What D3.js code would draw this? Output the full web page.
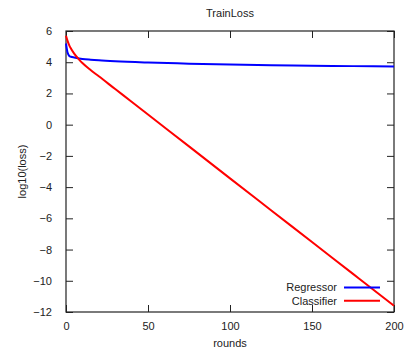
<!DOCTYPE html>
<html>
<head>
<meta charset="utf-8">
<script src="https://cdn.jsdelivr.net/npm/d3@7"></script>
<style>
  body { margin: 0; background: #fff; }
  text { font-family: "Liberation Sans", Arial, sans-serif; fill: #222; }
</style>
</head>
<body>
<div id="plot"></div>
<script>
// rounds and log10(loss)
const regRounds = [0, 1, 2, 3, 5, 8, 10, 15, 20, 30, 50, 75, 100, 125, 150, 175, 200];
const regLoss   = [5.2, 4.6, 4.4, 4.35, 4.3, 4.24, 4.21, 4.16, 4.12, 4.06, 3.98, 3.91, 3.85, 3.81, 3.78, 3.75, 3.72];
const clsRounds = [0, 1, 2, 3, 5, 8, 10, 15, 20, 30, 40, 50, 75, 100, 125, 150, 175, 200];
const clsLoss   = [5.7, 5.35, 5.08, 4.88, 4.55, 4.17, 3.95, 3.5, 3.1, 2.28, 1.47, 0.65, -1.39, -3.44, -5.48, -7.52, -9.56, -11.6];
const xTicks = [0, 50, 100, 150, 200];
const yTicks = [6, 4, 2, 0, -2, -4, -6, -8, -10, -12];
const seriesNames = ["Regressor", "Classifier"];
const seriesColors = ["#0000ff", "#ff0000"];

const width = 406, height = 350;
const margin = { left: 66, right: 12, top: 31, bottom: 38 };

const x = d3.scaleLinear().domain([0, 200]).range([margin.left, width - margin.right]);
const y = d3.scaleLinear().domain([-12, 6]).range([height - margin.bottom, margin.top]);

const svg = d3.select("#plot").append("svg").attr("width", width).attr("height", height);

const tickLen = 7;
// inward ticks on all four sides
svg.append("g")
    .attr("transform", `translate(0,${y(-12)})`)
    .call(d3.axisBottom(x).tickValues(xTicks).tickSize(-tickLen).tickPadding(10))
    .call(g => g.select(".domain").remove());
svg.append("g")
    .attr("transform", `translate(0,${y(6)})`)
    .call(d3.axisTop(x).tickValues(xTicks).tickSize(-tickLen).tickFormat(""))
    .call(g => g.select(".domain").remove());
svg.append("g")
    .attr("transform", `translate(${x(0)},0)`)
    .call(d3.axisLeft(y).tickValues(yTicks).tickSize(-tickLen).tickPadding(14))
    .call(g => g.select(".domain").remove());
svg.append("g")
    .attr("transform", `translate(${x(200)},0)`)
    .call(d3.axisRight(y).tickValues(yTicks).tickSize(-tickLen).tickFormat(""))
    .call(g => g.select(".domain").remove());

svg.selectAll(".tick line").attr("stroke", "#222");
svg.selectAll(".tick text").attr("font-size", 11).attr("font-family", "Liberation Sans, Arial, sans-serif").attr("fill", "#222");

svg.append("rect")
    .attr("x", x(0)).attr("y", y(6))
    .attr("width", x(200) - x(0)).attr("height", y(-12) - y(6))
    .attr("fill", "none").attr("stroke", "#222").attr("stroke-width", 1.2);

const line = d3.line().x(d => x(d[0])).y(d => y(d[1])).curve(d3.curveMonotoneX);
const series = [
    d3.zip(regRounds, regLoss),
    d3.zip(clsRounds, clsLoss)
];

svg.append("g")
    .attr("fill", "none")
    .attr("stroke-width", 2)
    .selectAll("path")
    .data(series)
    .join("path")
    .attr("stroke", (d, i) => seriesColors[i])
    .attr("d", line);

// legend
const leg = svg.append("g");
seriesNames.forEach((name, i) => {
    const ly = 287.5 + i * 13.3;
    leg.append("text")
        .attr("x", 337).attr("y", ly).attr("dy", "0.35em")
        .attr("text-anchor", "end").attr("font-size", 11)
        .text(name);
    leg.append("line")
        .attr("x1", 344).attr("x2", 380).attr("y1", ly).attr("y2", ly)
        .attr("stroke", seriesColors[i]).attr("stroke-width", 2);
});

svg.append("text")
    .attr("x", (x(0) + x(200)) / 2).attr("y", 17)
    .attr("text-anchor", "middle").attr("font-size", 11)
    .text("TrainLoss");
svg.append("text")
    .attr("x", (x(0) + x(200)) / 2).attr("y", 347)
    .attr("text-anchor", "middle").attr("font-size", 11)
    .text("rounds");
svg.append("text")
    .attr("transform", `translate(26,${(y(6) + y(-12)) / 2}) rotate(-90)`)
    .attr("text-anchor", "middle").attr("font-size", 11)
    .text("log10(loss)");
</script>
</body>
</html>
